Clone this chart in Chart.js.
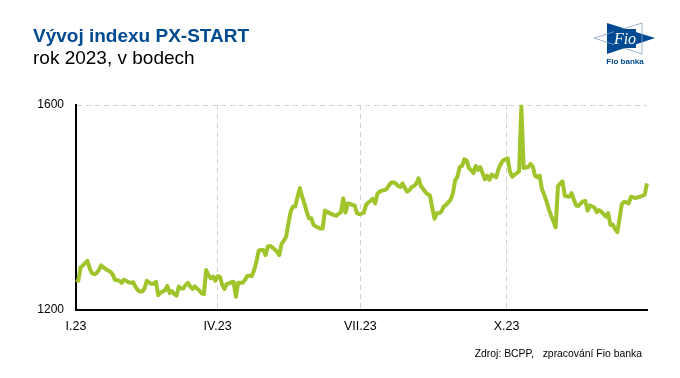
<!DOCTYPE html>
<html>
<head>
<meta charset="utf-8">
<script src="https://cdn.jsdelivr.net/npm/chart.js@4"></script>
<style>
    html, body { margin: 0; padding: 0; background: #fff; }
    #wrap { position: relative; width: 680px; height: 378px; overflow: hidden; font-family: "Liberation Sans", Arial, sans-serif; }
    canvas { position: absolute; left: 0; top: 0; }
    .txt { position: absolute; white-space: pre; }
    #title { left: 33px; top: 25px; font-size: 19px; font-weight: bold; color: #004a92; }
    #subtitle { left: 33px; top: 47px; font-size: 19px; color: #000; }
    #source { right: 38px; top: 348px; font-size: 10.4px; color: #000; }
    #logo { position: absolute; left: 590px; top: 18px; }
</style>
</head>
<body>
<div id="wrap">
    <canvas id="line" width="680" height="378"></canvas>
    <div class="txt" id="title">Vývoj indexu PX-START</div>
    <div class="txt" id="subtitle">rok 2023, v bodech</div>
    <div class="txt" id="source">Zdroj: BCPP,   zpracování Fio banka</div>
    <svg id="logo" width="70" height="52" viewBox="0 0 70 52">
        <polygon points="17,5 65,20 17,36" fill="#004a92"/>
        <polygon points="52,5 4,20 52,36" fill="none" stroke="#7f9fc6" stroke-width="0.8"/>
        <rect x="24" y="11" width="22" height="19" fill="#004a92"/>
        <text x="35" y="26" text-anchor="middle" font-family="Liberation Serif" font-style="italic" font-size="16" fill="#fff">Fio</text>
        <text x="35" y="46" text-anchor="middle" font-family="Liberation Sans" font-weight="bold" font-size="8" fill="#004a92">Fio banka</text>
    </svg>
</div>
<script>
const index_values = [
    1259, 1257, 1283, 1287, 1291, 1296, 1281, 1272, 1270, 1272,
    1278, 1287, 1283, 1280, 1277, 1275, 1270, 1259, 1258, 1257,
    1253, 1259, 1257, 1254, 1253, 1254, 1246, 1239, 1236, 1236,
    1242, 1257, 1254, 1251, 1251, 1255, 1229, 1234, 1236, 1239,
    1247, 1233, 1237, 1231, 1228, 1246, 1242, 1242, 1249, 1253,
    1246, 1241, 1246, 1242, 1238, 1233, 1231, 1278, 1268, 1262,
    1265, 1257, 1266, 1265, 1249, 1241, 1251, 1252, 1254, 1255,
    1226, 1253, 1253, 1253, 1259, 1267, 1267, 1266, 1278, 1294,
    1316, 1317, 1317, 1307, 1324, 1325, 1322, 1318, 1314, 1307,
    1329, 1335, 1343, 1369, 1392, 1402, 1402, 1421, 1438, 1421,
    1408, 1392, 1379, 1379, 1366, 1363, 1361, 1359, 1359, 1394,
    1391, 1389, 1387, 1385, 1384, 1388, 1391, 1418, 1390, 1408,
    1407, 1405, 1404, 1389, 1387, 1388, 1390, 1405, 1410, 1413,
    1417, 1408, 1427, 1431, 1433, 1434, 1436, 1443, 1449, 1449,
    1447, 1442, 1440, 1447, 1438, 1431, 1434, 1440, 1442, 1447,
    1457, 1442, 1436, 1430, 1426, 1423, 1399, 1378, 1389, 1389,
    1392, 1402, 1405, 1410, 1415, 1427, 1453, 1460, 1479, 1481,
    1494, 1492, 1477, 1473, 1467, 1481, 1473, 1479, 1467, 1455,
    1462, 1454, 1464, 1462, 1459, 1475, 1485, 1492, 1494, 1496,
    1470, 1460, 1464, 1467, 1471, 1597, 1477, 1478, 1479, 1485,
    1480, 1462, 1459, 1462, 1436, 1425, 1412, 1397, 1384, 1373,
    1361, 1441, 1447, 1451, 1423, 1422, 1421, 1428, 1415, 1404,
    1403, 1408, 1412, 1413, 1394, 1404, 1402, 1400, 1391, 1395,
    1392, 1387, 1382, 1389, 1366, 1367, 1358, 1352, 1379, 1407,
    1411, 1410, 1408, 1421, 1420, 1418, 1420, 1421, 1423, 1425,
    1447
];
const tick_days = [0, 62, 124.5, 188.5];
const tick_labels = ['I.23', 'IV.23', 'VII.23', 'X.23'];
const y_ticks = [1200, 1600];

function initLineGraph() {
    var ctx = document.getElementById('line').getContext('2d');
    const points = [];
    for (let i = 0; i < index_values.length; i++) {
        points.push({ x: i, y: index_values[i] });
    }
    new Chart(ctx, {
        type: 'line',
        data: {
            datasets: [{
                data: points,
                borderColor: '#a0c42c',
                borderWidth: 4,
                pointRadius: 0,
                tension: 0,
                borderJoinStyle: 'round',
                clip: false
            }]
        },
        options: {
            responsive: false,
            animation: false,
            layout: { padding: { top: 105, right: 33, left: 0, bottom: 0 } },
            plugins: { legend: { display: false }, tooltip: { enabled: false } },
            scales: {
                x: {
                    type: 'linear',
                    min: 0,
                    max: index_values.length - 1,
                    afterBuildTicks: function (axis) {
                        axis.ticks = tick_days.map(function (d) { return { value: d }; });
                    },
                    afterFit: function (axis) { axis.height = 68; },
                    border: { display: true, color: '#000', width: 2, dash: [5, 4] },
                    grid: {
                        drawTicks: false,
                        color: function (c) { return c.tick && c.tick.value === 0 ? 'rgba(0,0,0,0)' : '#d2d2d2'; },
                        lineWidth: 1
                    },
                    ticks: {
                        autoSkip: false,
                        maxRotation: 0,
                        padding: 9,
                        color: '#000',
                        font: { family: '"Liberation Sans"', size: 12.5 },
                        callback: function (value) { return tick_labels[tick_days.indexOf(value)]; }
                    }
                },
                y: {
                    min: y_ticks[0],
                    max: y_ticks[1],
                    afterBuildTicks: function (axis) {
                        axis.ticks = y_ticks.map(function (v) { return { value: v }; });
                    },
                    afterFit: function (axis) { axis.width = 76; },
                    border: { display: true, color: '#000', width: 2, dash: [5, 4] },
                    grid: {
                        drawTicks: false,
                        color: function (c) { return c.tick && c.tick.value === 1200 ? 'rgba(0,0,0,0)' : '#d2d2d2'; },
                        lineWidth: 1
                    },
                    ticks: {
                        padding: 12,
                        color: '#000',
                        font: { family: '"Liberation Sans"', size: 12 },
                        callback: function (value) { return String(value); }
                    }
                }
            }
        }
    });
}
initLineGraph();
</script>
</body>
</html>
